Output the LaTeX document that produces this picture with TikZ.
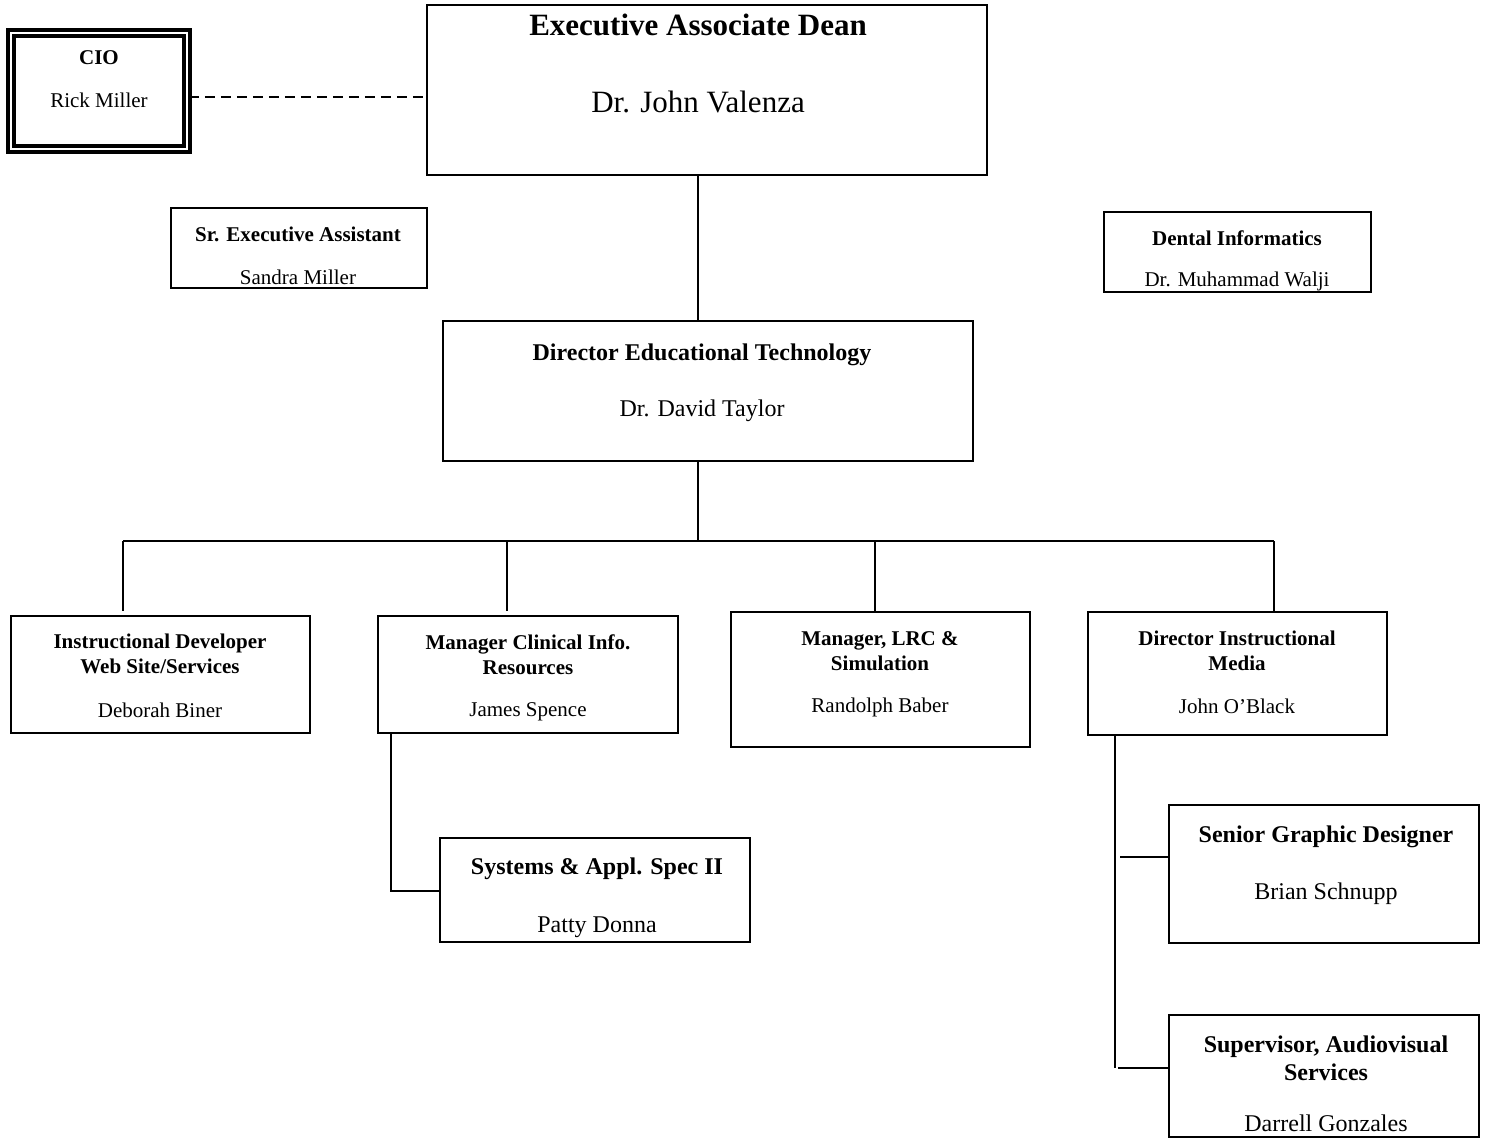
\documentclass[tikz,border=0pt]{standalone}
\usepackage{fontspec}
\setmainfont{Liberation Serif}
\usetikzlibrary{positioning}

\begin{document}
\begin{tikzpicture}[x=0.5pt,y=-0.5pt,
    box/.style={draw,line width=1.4pt,inner sep=0pt},
    link/.style={line width=1.4pt},
    big/.style={font=\fontsize{15.5}{18}\selectfont},
    bigb/.style={font=\fontsize{15.5}{18}\selectfont\bfseries},
    med/.style={font=\fontsize{12}{14}\selectfont,align=center},
    medb/.style={font=\fontsize{12}{14}\selectfont\bfseries,align=center},
    sml/.style={font=\fontsize{10.5}{12.5}\selectfont,align=center},
    smlb/.style={font=\fontsize{10.5}{12.5}\selectfont\bfseries,align=center}]
            \useasboundingbox (0,0) rectangle (1489,1139);
            % boxes
            \node [box,minimum width=88pt,minimum height=58pt,line width=1.9pt,double=white,double distance=0.8pt] (cio) at (99,91) {};
            \node [box,minimum width=280pt,minimum height=85pt] (ead) at (707,90) {};
            \node [box,minimum width=128pt,minimum height=40pt] (asst) at (299,248) {};
            \node [box,minimum width=133.5pt,minimum height=40pt] (dent) at (1237.5,252) {};
            \node [box,minimum width=265pt,minimum height=70pt] (dir) at (708,391) {};
            \node [box,minimum width=149.5pt,minimum height=58.5pt] (web) at (160.5,674.5) {};
            \node [box,minimum width=150pt,minimum height=58.5pt] (clin) at (528,674.5) {};
            \node [box,minimum width=149.5pt,minimum height=67.5pt] (lrc) at (880.5,679.5) {};
            \node [box,minimum width=149.5pt,minimum height=61.5pt] (media) at (1237.5,673.5) {};
            \node [box,minimum width=155pt,minimum height=52pt] (sys) at (595,890) {};
            \node [box,minimum width=155pt,minimum height=69pt] (graph) at (1324,874) {};
            \node [box,minimum width=155pt,minimum height=61pt] (av) at (1324,1076) {};

            % texts
            \node [smlb] (ciot) at (99,58) {CIO};
            \node [sml] (cion) at (99,100) {Rick Miller};
            \node [bigb] (eadt) at (698,25) {Executive Associate Dean};
            \node [big] (eadn) at (698,102) {Dr. John Valenza};
            \node [smlb] (asstt) at (298,234) {Sr. Executive Assistant};
            \node [sml] (asstn) at (298,277) {Sandra Miller};
            \node [smlb] (dentt) at (1237,238) {Dental Informatics};
            \node [sml] (dentn) at (1237,281) {Dr. Muhammad Walji};
            \node [medb] (dirt) at (702,355) {Director Educational Technology};
            \node [med] (dirn) at (702,411) {Dr. David Taylor};
            \node [smlb] (webt) at (160,654) {Instructional Developer\\Web Site/Services};
            \node [sml] (webn) at (160,710) {Deborah Biner};
            \node [smlb] (clint) at (528,655) {Manager Clinical Info.\\Resources};
            \node [sml] (clinn) at (528,712) {James Spence};
            \node [smlb] (lrct) at (880,651) {Manager, LRC \&\\Simulation};
            \node [sml] (lrcn) at (880,707) {Randolph Baber};
            \node [smlb] (mediat) at (1237,651) {Director Instructional\\Media};
            \node [sml] (mediana) at (1237,706) {John O'Black};
            \node [medb] (syst) at (597,869) {Systems \& Appl. Spec II};
            \node [med] (sysn) at (597,927) {Patty Donna};
            \node [medb] (grapht) at (1326,837) {Senior Graphic Designer};
            \node [med] (graphn) at (1326,894) {Brian Schnupp};
            \node [medb] (avt) at (1326,1058) {Supervisor, Audiovisual\\Services};
            \node [med] (avn) at (1326,1123) {Darrell Gonzales};

            % connectors
            \coordinate (bus) at (698,541);
            \draw [link,dashed,dash pattern=on 5pt off 3pt] (cio.east |- 0,97) -- (ead.west |- 0,97);
            \draw [link] (ead.south -| 698,0) -- (dir.north -| 698,0);
            \draw [link] (dir.south -| bus) -- (bus);
            \draw [link] (123,541) -- (1274,541);
            \draw [link] (123,541) -- (123,611);
            \draw [link] (507,541) -- (507,611);
            \draw [link] (875,541) -- (875,611);
            \draw [link] (1274,541) -- (1274,611);
            \draw [link] (clin.south -| 391,0) -- (391,891) -- (sys.west |- 0,891);
            \draw [link] (media.south -| 1115,0) -- (1115,1068);
            \draw [link] (1120,857) -- (graph.west |- 0,857);
            \draw [link] (1118,1068) -- (av.west |- 0,1068);
        \end{tikzpicture}
\end{document}
